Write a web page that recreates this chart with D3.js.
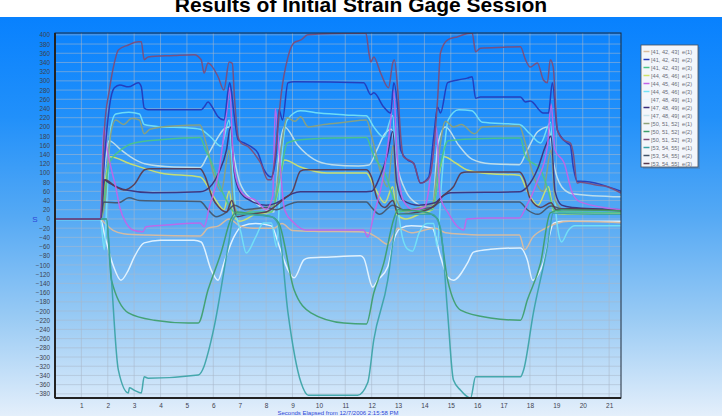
<!DOCTYPE html>
<html><head><meta charset="utf-8">
<script src="https://cdn.jsdelivr.net/npm/d3@7"></script>
<style>html,body{margin:0;padding:0;background:#fff;}svg{display:block;}</style>
</head><body>
<svg id="c" width="722" height="416"></svg>
<script>
// ---------- data (time in s, strain) ----------
const seriesNames = ["[41, 42, 43]  e(1)","[41, 42, 43]  e(2)","[41, 42, 43]  e(3)",
 "[44, 45, 46]  e(1)","[44, 45, 46]  e(2)","[44, 45, 46]  e(3)",
 "[47, 48, 49]  e(1)","[47, 48, 49]  e(2)","[47, 48, 49]  e(3)",
 "[50, 51, 52]  e(1)","[50, 51, 52]  e(2)","[50, 51, 52]  e(3)",
 "[53, 54, 55]  e(1)","[53, 54, 55]  e(2)","[53, 54, 55]  e(3)"];
const seriesColors = ["#dcbc9c","#2438b8","#4cc488","#cfe36a","#c364e8","#74e2f6","#e8f6ff","#3b2f7a",
 "#c6e2ea","#8ea27a","#3d9e6a","#7f4c78","#3aa3a6","#44566a","#5a3a4e"];
const xTicks = d3.range(1, 22);
const yTicks = d3.range(-380, 401, 20);

const s41e1 = [[0,0],[1.72,0],[1.9,-10],[2.2,-25],[2.6,-32],[3.5,-35],[5.5,-37],[5.8,-20],[6.2,-15],[6.6,0],[7.0,-15],[7.5,-20],[8.3,-20],[8.6,-10],[9.0,-25],[10.0,-27],[11.5,-28],[11.85,-30],[12.2,-40],[12.6,-55],[13.0,-20],[13.5,-30],[14.4,-20],[14.8,-30],[15.5,-33],[16.5,-35],[17.6,-35],[17.8,-67],[18.1,-40],[18.6,-20],[19.0,-10],[19.5,-5],[21.45,-8]];
const s41e2 = [[0,0],[1.72,0],[1.9,150],[2.06,243],[2.25,285],[2.46,291],[2.78,287],[3.16,296],[3.27,287],[3.38,241],[3.53,237],[5.54,237],[5.65,243],[5.8,254],[5.99,240],[6.18,222],[6.4,215],[6.62,296],[6.68,280],[6.78,230],[6.94,172],[7.17,165],[7.43,157],[7.69,143],[7.92,107],[8.19,91],[8.37,135],[8.49,237],[8.62,215],[8.83,296],[9.06,298],[11.7,296],[11.97,270],[12.08,274],[12.46,243],[12.72,230],[12.84,296],[12.99,240],[13.1,150],[13.36,128],[13.59,121],[13.85,78],[14.16,91],[14.35,178],[14.5,243],[14.61,230],[14.88,296],[15.26,302],[15.63,306],[15.81,309],[15.94,262],[16.12,265],[17.64,265],[17.83,254],[18.01,256],[18.51,230],[18.7,230],[18.85,296],[19.04,193],[19.41,165],[19.53,160],[19.64,113],[19.79,82],[19.91,82],[21.45,60]];
const s41e3 = [[0,0],[1.72,0],[1.9,60],[2.05,120],[2.5,150],[3.0,165],[4.0,172],[5.5,177],[5.7,150],[5.95,121],[6.2,78],[6.5,40],[6.7,20],[7.0,10],[7.5,15],[8.2,15],[8.5,80],[8.8,165],[9.3,172],[10.5,176],[11.8,177],[12.0,150],[12.1,135],[12.5,100],[12.8,50],[13.0,15],[13.5,20],[14.3,20],[14.55,100],[14.9,170],[16,174],[17.64,176],[17.83,135],[18.4,107],[18.7,60],[18.9,20],[19.3,15],[21.45,14]];
const s44e1 = [[0,0],[1.72,0],[1.9,80],[2.1,135],[2.8,121],[4.0,100],[5.5,91],[5.8,70],[6.1,40],[6.4,20],[6.6,60],[6.75,10],[7.0,-5],[7.6,10],[8.2,15],[8.45,60],[8.7,128],[9.3,113],[10.3,100],[11.8,100],[12.1,70],[12.5,35],[12.8,70],[12.95,10],[13.3,0],[13.8,10],[14.3,20],[14.5,80],[14.75,135],[15.2,121],[15.6,107],[16.5,98],[17.6,95],[17.9,60],[18.3,30],[18.7,70],[18.9,15],[19.3,10],[21.45,12]];
const s44e2 = [[0,0],[1.72,0],[1.85,200],[1.95,160],[2.14,107],[2.3,70],[2.45,26],[2.7,-9],[2.95,-24],[3.33,-28],[3.45,-17],[4.5,-12],[5.5,-9],[5.65,-17],[5.85,26],[6.2,100],[6.5,230],[6.62,285],[6.75,135],[6.9,80],[7.2,50],[7.6,41],[8.0,20],[8.25,50],[8.35,240],[8.45,180],[8.7,20],[9.06,-9],[9.5,-24],[11.7,-24],[11.85,-39],[12.1,13],[12.4,80],[12.7,200],[12.84,280],[12.95,150],[13.2,40],[13.6,20],[14.0,25],[14.35,150],[14.45,200],[14.6,48],[14.9,13],[15.26,-17],[15.5,-24],[15.6,0],[16.5,2],[17.6,2],[17.8,20],[18.3,85],[18.66,157],[18.8,250],[18.95,150],[19.3,121],[19.6,57],[19.9,37],[21.45,20]];
const s44e3 = [[0,-2],[1.72,-2],[1.87,-67],[1.98,60],[2.12,200],[2.3,228],[2.8,232],[3.2,228],[3.38,205],[4.0,200],[5.0,198],[5.5,195],[5.9,178],[6.3,158],[6.6,215],[6.72,120],[6.85,20],[7.05,-30],[7.25,-74],[7.6,-40],[7.9,-9],[8.2,-9],[8.4,-61],[8.55,100],[8.8,215],[9.3,235],[10,230],[11,226],[11.8,224],[12.08,200],[12.46,178],[12.8,225],[12.95,60],[13.1,-20],[13.35,-65],[13.55,-70],[13.8,-30],[14.1,-10],[14.35,-10],[14.48,-60],[14.65,80],[14.9,215],[15.3,237],[15.8,235],[16.2,210],[17.6,205],[18.0,185],[18.4,165],[18.78,210],[18.92,60],[19.05,-20],[19.2,-50],[19.45,-25],[19.7,-15],[21.45,-15]];
const s47e1 = [[0,0],[1.72,0],[1.9,-40],[2.2,-100],[2.5,-133],[2.78,-111],[3.0,-83],[3.38,-52],[4.0,-46],[5.27,-46],[5.54,-50],[5.92,-111],[6.18,-133],[6.4,-96],[6.78,-39],[7.1,-15],[7.6,-10],[8.2,-15],[8.5,-60],[8.83,-111],[9.06,-128],[9.43,-89],[9.6,-85],[10.3,-83],[11.58,-80],[11.7,-85],[12.04,-148],[12.23,-133],[12.61,-104],[12.84,-46],[13.1,-20],[13.5,-15],[14.3,-20],[14.6,-80],[14.88,-126],[15.1,-133],[15.63,-96],[15.86,-72],[16.5,-66],[17.64,-63],[17.9,-89],[18.1,-133],[18.5,-96],[18.9,-9],[19.2,-5],[21.45,-5]];
const s47e2 = [[0,0],[1.72,0],[1.85,85],[2.06,78],[2.7,63],[3.7,57],[5.5,59],[5.7,62],[6.2,100],[6.5,150],[6.65,200],[6.8,100],[7.0,60],[7.4,40],[8.0,30],[8.4,35],[8.7,45],[9.0,55],[9.3,59],[11.8,59],[12.0,60],[12.3,90],[12.6,140],[12.8,190],[12.95,80],[13.2,40],[13.8,30],[14.4,35],[14.7,50],[15.0,57],[17.6,59],[17.9,70],[18.3,110],[18.6,160],[18.8,180],[18.95,60],[19.2,30],[19.6,25],[21.45,20]];
const s47e3 = [[0,0],[1.72,0],[1.9,120],[2.05,170],[2.5,150],[3.0,130],[3.4,120],[4.5,113],[5.5,112],[5.8,140],[6.1,170],[6.4,195],[6.6,200],[6.8,130],[7.0,80],[7.5,40],[8.0,20],[8.3,15],[8.5,150],[8.7,200],[9.2,160],[9.8,130],[10.5,118],[11.5,115],[11.9,117],[12.2,150],[12.5,185],[12.75,195],[12.95,120],[13.3,60],[13.8,30],[14.3,20],[14.5,160],[14.8,200],[15.3,160],[15.8,130],[16.5,120],[17.6,118],[17.9,150],[18.3,190],[18.7,200],[18.9,120],[19.2,70],[19.6,55],[21.45,48]];
const s50e1 = [[0,0],[1.72,0],[1.9,40],[2.1,180],[2.3,215],[2.6,205],[2.9,218],[3.2,215],[3.38,185],[3.6,195],[4.5,202],[5.5,204],[5.7,170],[6.0,100],[6.3,60],[6.6,150],[6.75,40],[7.0,10],[7.5,20],[8.0,25],[8.3,30],[8.5,120],[8.8,220],[9.1,212],[9.3,222],[9.6,200],[10.2,205],[11.0,210],[11.8,215],[12.0,180],[12.3,110],[12.6,70],[12.82,160],[12.95,40],[13.3,15],[13.8,25],[14.3,30],[14.5,120],[14.8,212],[15.1,200],[15.4,205],[15.9,185],[16.2,200],[17.6,202],[17.8,170],[18.1,100],[18.5,60],[18.8,150],[18.95,40],[19.3,20],[19.6,20],[21.45,18]];
const s50e2 = [[0,0],[1.95,0],[2.14,-133],[2.78,-204],[3.76,-220],[5.05,-226],[5.43,-226],[5.80,-154],[6.29,-74],[6.67,0],[6.9,15],[7.5,10],[8.2,5],[8.49,-10],[9.06,-154],[9.7,-204],[10.95,-226],[11.8,-228],[12.08,-161],[12.46,-96],[12.84,0],[13.0,20],[14.0,15],[14.5,0],[14.88,-133],[15.37,-198],[16.5,-215],[17.64,-220],[17.9,-176],[18.4,-96],[18.77,13],[19.2,20],[21.45,18]];
const s50e3 = [[0,0],[1.72,0],[1.87,193],[2.06,280],[2.25,339],[2.4,367],[2.78,378],[3.16,385],[3.27,385],[3.38,346],[3.53,352],[4.5,355],[5.27,357],[5.54,346],[5.65,317],[5.8,339],[6.18,309],[6.4,280],[6.6,341],[6.72,338],[6.8,265],[6.94,178],[7.05,165],[7.32,157],[7.54,143],[7.8,121],[8.07,85],[8.19,85],[8.31,121],[8.45,200],[8.56,265],[8.83,352],[9.06,383],[9.32,389],[9.58,400],[10.5,403],[11.78,404],[11.9,360],[11.97,341],[12.08,352],[12.34,317],[12.64,285],[12.8,339],[12.86,346],[12.99,280],[13.1,180],[13.21,135],[13.59,121],[13.85,78],[14.12,85],[14.24,100],[14.35,150],[14.5,260],[14.61,361],[14.88,389],[15.26,396],[15.63,403],[15.81,404],[15.94,363],[16.12,371],[17.0,373],[17.64,374],[17.83,346],[18.01,330],[18.28,339],[18.51,302],[18.66,296],[18.77,346],[18.88,330],[19.04,193],[19.26,172],[19.53,165],[19.64,143],[19.79,78],[19.91,80],[20.5,74],[20.93,70],[21.45,56]];
const s53e1 = [[0,0],[1.95,0],[2.1,-100],[2.4,-328],[2.78,-378],[2.82,-367],[3.0,-372],[3.27,-378],[3.38,-343],[3.53,-346],[5.43,-339],[5.65,-320],[5.80,-291],[6.03,-235],[6.56,-60],[6.75,0],[7.0,10],[8.2,5],[8.45,-10],[8.83,-204],[9.32,-355],[9.6,-383],[11.47,-383],[11.85,-356],[12.08,-263],[12.61,-133],[12.84,-39],[13.0,10],[14.3,10],[14.61,-20],[14.88,-204],[15.1,-350],[15.37,-372],[15.75,-389],[15.94,-343],[17.64,-343],[17.75,-330],[18.13,-204],[18.66,-60],[18.88,13],[19.2,12],[21.45,10]];
const s53e2 = [[0,0],[1.72,0],[1.85,37],[2.4,35],[2.8,46],[3.2,40],[5.5,38],[5.8,20],[6.1,5],[6.5,15],[6.8,30],[7.2,20],[8.0,25],[8.4,20],[8.8,30],[9.2,37],[11.8,37],[12.0,25],[12.3,10],[12.8,30],[13.2,20],[14.3,25],[14.6,37],[17.6,37],[17.9,20],[18.3,10],[18.8,28],[19.2,22],[21.45,20]];
const s53e3 = [[0,0],[1.72,0],[1.9,85],[2.3,70],[2.6,63],[3.0,75],[3.4,107],[3.6,109],[5.5,109],[5.7,91],[5.95,48],[6.2,26],[6.5,15],[6.7,40],[6.9,5],[7.3,10],[8.0,15],[8.4,30],[8.7,45],[9.0,60],[9.3,104],[9.5,107],[11.8,107],[12.0,90],[12.2,45],[12.5,25],[12.8,40],[13.0,10],[13.8,15],[14.4,30],[14.7,50],[15.1,70],[15.4,100],[15.6,102],[17.6,102],[17.8,85],[18.0,45],[18.4,25],[18.8,35],[19.0,20],[19.5,22],[21.45,18]];

const seriesData = [s41e1,s41e2,s41e3,s44e1,s44e2,s44e3,s47e1,s47e2,s47e3,s50e1,s50e2,s50e3,s53e1,s53e2,s53e3];
// draw order (back to front)
const drawOrder = [6,8,0,3,5,9,2,13,7,14,4,10,12,1,11];

// ---------- drawing ----------
const svg = d3.select("#c");
const W = 722, H = 416;
const defs = svg.append("defs");
const grad = defs.append("linearGradient").attr("id","bg").attr("x1",0).attr("y1",0).attr("x2",0).attr("y2",1);
[[0,"#0881fe"],[0.25,"#2190fa"],[0.5,"#55a9f4"],[0.75,"#98caf4"],[1,"#e4effb"]].forEach(s=>
  grad.append("stop").attr("offset",s[0]).attr("stop-color",s[1]));

svg.append("rect").attr("width",W).attr("height",H).attr("fill","#ffffff");
svg.append("rect").attr("x",0).attr("y",17).attr("width",W).attr("height",H-17).attr("fill","url(#bg)");

svg.append("text").attr("x",361).attr("y",12).attr("text-anchor","middle")
  .attr("font-family","Liberation Sans, Arial, sans-serif").attr("font-weight","bold")
  .attr("font-size",21).attr("fill","#000").text("Results of Initial Strain Gage Session");

const x = d3.scaleLinear().domain([0, 21.45]).range([55, 621]);
const y = d3.scaleLinear().domain([-389, 404]).range([398, 33]);

defs.append("clipPath").attr("id","clip").append("rect")
  .attr("x",55).attr("y",33).attr("width",566).attr("height",365);

// grid
const g = svg.append("g");
g.selectAll(".vg").data(xTicks).enter().append("line")
  .attr("x1",d=>x(d)).attr("x2",d=>x(d)).attr("y1",33).attr("y2",398)
  .attr("stroke","#a9b8ca").attr("stroke-opacity",0.55).attr("stroke-width",1);
g.selectAll(".hg").data(yTicks).enter().append("line")
  .attr("x1",55).attr("x2",621).attr("y1",d=>y(d)).attr("y2",d=>y(d))
  .attr("stroke","#a9b8ca").attr("stroke-opacity",0.55).attr("stroke-width",1);

// axes via d3
const yAxis = d3.axisLeft(y).tickValues(yTicks).tickSize(0).tickPadding(5);
const ya = svg.append("g").attr("transform","translate(55,0)").call(yAxis);
ya.select(".domain").remove();
ya.selectAll("text").attr("font-family","Liberation Sans, Arial, sans-serif").attr("font-size",6.3).attr("fill","#3c4250");

const xAxis = d3.axisBottom(x).tickValues(xTicks).tickSize(0).tickPadding(5);
const xa = svg.append("g").attr("transform","translate(0,398)").call(xAxis);
xa.select(".domain").remove();
xa.selectAll("text").attr("font-family","Liberation Sans, Arial, sans-serif").attr("font-size",6.5).attr("fill","#3c4250");

// lines
const line = d3.line().x(d=>x(d[0])).y(d=>y(d[1])).curve(d3.curveMonotoneX);
const lg = svg.append("g").attr("clip-path","url(#clip)");
drawOrder.forEach(i=>{
  lg.append("path").attr("d", line(seriesData[i])).attr("fill","none")
    .attr("stroke", seriesColors[i]).attr("stroke-width",1.5).attr("stroke-opacity",0.92)
    .attr("stroke-linejoin","round");
});

// frame
svg.append("rect").attr("x",55).attr("y",33).attr("width",566).attr("height",365)
  .attr("fill","none").attr("stroke","#1e2a3a").attr("stroke-width",1);
svg.append("line").attr("x1",55).attr("x2",55).attr("y1",33).attr("y2",398).attr("stroke","#222").attr("stroke-width",2);
svg.append("line").attr("x1",55).attr("x2",621).attr("y1",398).attr("y2",398).attr("stroke","#222").attr("stroke-width",2);

// axis titles
svg.append("text").attr("x",338).attr("y",415).attr("text-anchor","middle")
  .attr("font-family","Liberation Sans, Arial, sans-serif").attr("font-size",6).attr("fill","#2c46d8")
  .text("Seconds Elapsed from 12/7/2006 2:15:58 PM");
svg.append("text").attr("x",35).attr("y",222).attr("text-anchor","middle")
  .attr("font-family","Liberation Sans, Arial, sans-serif").attr("font-size",8).attr("fill","#2c46d8")
  .text("S");

// legend
const leg = svg.append("g");
leg.append("rect").attr("x",643).attr("y",47).attr("width",57).attr("height",122).attr("fill","#5a6a80").attr("opacity",0.35);
leg.append("rect").attr("x",641).attr("y",45).attr("width",57).attr("height",122)
  .attr("fill","#f3f6fb").attr("stroke","#4a4f58").attr("stroke-width",0.8);
seriesNames.forEach((n,i)=>{
  const yy = 51.5 + i*8;
  leg.append("line").attr("x1",643.5).attr("x2",649.5).attr("y1",yy).attr("y2",yy)
    .attr("stroke",seriesColors[i]).attr("stroke-width",1.5);
  leg.append("text").attr("x",651).attr("y",yy+2).attr("font-family","Liberation Sans, Arial, sans-serif")
    .attr("font-size",5.6).attr("fill","#6a6e78").attr("xml:space","preserve").text(n);
});
</script>
</body></html>
